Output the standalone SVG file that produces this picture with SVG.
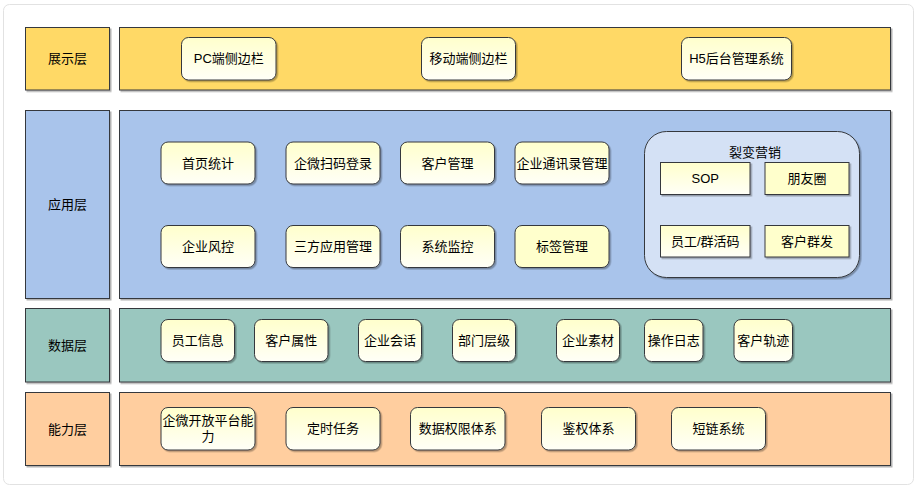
<svg xmlns="http://www.w3.org/2000/svg" width="919" height="488" viewBox="0 0 919 488">
<defs>
<linearGradient id="g" x1="0" y1="0" x2="0" y2="1"><stop offset="0" stop-color="#FFFFCC"/><stop offset="1" stop-color="#FFFFF7"/></linearGradient>
<filter id="sh" x="-10%" y="-10%" width="130%" height="130%"><feDropShadow dx="1.5" dy="1.5" stdDeviation="0.6" flood-color="#000" flood-opacity="0.3"/></filter>
</defs>
<style>
text{font-family:"Liberation Sans","Noto Sans CJK SC",sans-serif;font-size:13px;fill:#000;text-anchor:middle;dominant-baseline:central}
.lay{stroke:#36393d;stroke-width:1;filter:url(#sh)}
.n{fill:url(#g);stroke:#36393d;stroke-width:1;filter:url(#sh)}
.ns{fill:#FFFFCC;stroke:#36393d;stroke-width:1;filter:url(#sh)}
.y{fill:#FFD966}.b{fill:#A9C4EB}.t{fill:#9AC7BF}.p{fill:#FFCE9F}
</style>
<rect x="3.5" y="4.5" width="910" height="480" rx="6" fill="#fff" stroke="#e2e2e2"/>
<g id="layers">
<g id="l1"><rect class="lay y" x="25.5" y="27.5" width="84" height="62.5"/><text x="67.5" y="58.75">展示层</text></g>
<g id="l1m"><rect class="lay y" x="119.5" y="27.5" width="771" height="62.5"/></g>
<g id="l2"><rect class="lay b" x="25.5" y="110.5" width="84" height="188"/><text x="67.5" y="204.5">应用层</text></g>
<g id="l2m"><rect class="lay b" x="119.5" y="110.5" width="771" height="188"/></g>
<g id="l3"><rect class="lay t" x="25.5" y="308.5" width="84" height="73.5"/><text x="67.5" y="345">数据层</text></g>
<g id="l3m"><rect class="lay t" x="119.5" y="308.5" width="771" height="73.5"/></g>
<g id="l4"><rect class="lay p" x="25.5" y="392.5" width="84" height="73"/><text x="67.5" y="429">能力层</text></g>
<g id="l4m"><rect class="lay p" x="119.5" y="392.5" width="771" height="73"/></g>
</g>
<g id="n-pc"><rect class="n" x="181.5" y="37.5" width="94.5" height="42.5" rx="7"/><text x="228.75" y="58.75">PC端侧边栏</text></g>
<g id="n-mobile"><rect class="n" x="421.5" y="37.5" width="94" height="42.5" rx="7"/><text x="468.5" y="58.75">移动端侧边栏</text></g>
<g id="n-h5"><rect class="n" x="681.5" y="37.5" width="110" height="42.5" rx="7"/><text x="736.5" y="58.75">H5后台管理系统</text></g>

<g id="n-home"><rect class="n" x="161" y="142" width="94" height="42" rx="7"/><text x="208" y="163">首页统计</text></g>
<g id="n-login"><rect class="n" x="286" y="142" width="94" height="42" rx="7"/><text x="333" y="163">企微扫码登录</text></g>
<g id="n-cust"><rect class="n" x="400.5" y="142" width="94" height="42" rx="7"/><text x="447.5" y="163">客户管理</text></g>
<g id="n-addr"><rect class="n" x="515" y="142" width="94" height="42" rx="7"/><text x="562" y="163">企业通讯录管理</text></g>
<g id="n-risk"><rect class="n" x="161" y="225.5" width="94" height="42" rx="7"/><text x="208" y="246.5">企业风控</text></g>
<g id="n-third"><rect class="n" x="286" y="225.5" width="94" height="42" rx="7"/><text x="333" y="246.5">三方应用管理</text></g>
<g id="n-mon"><rect class="n" x="400.5" y="225.5" width="94" height="42" rx="7"/><text x="447.5" y="246.5">系统监控</text></g>
<g id="n-tag"><rect class="ns" x="515" y="225.5" width="94" height="42" rx="7"/><text x="562" y="246.5">标签管理</text></g>

<g id="n-fission"><rect x="644.5" y="131.5" width="215" height="146" rx="22" fill="#D4E1F5" stroke="#36393d" stroke-width="1" filter="url(#sh)"/><text x="755" y="152.5">裂变营销</text></g>
<g id="n-sop"><rect class="n" x="660.5" y="162.5" width="89.5" height="32"/><text x="705.25" y="178.5">SOP</text></g>
<g id="n-moments"><rect class="ns" x="765" y="162.5" width="84" height="32"/><text x="807" y="178.5">朋友圈</text></g>
<g id="n-code"><rect class="n" x="660.5" y="225.5" width="89.5" height="31.5"/><text x="705.25" y="241.25">员工/群活码</text></g>
<g id="n-mass"><rect class="ns" x="765" y="225.5" width="84" height="31.5"/><text x="807" y="241.25">客户群发</text></g>

<g id="n-staff"><rect class="n" x="161" y="319.5" width="73.5" height="42" rx="7"/><text x="197.75" y="340">员工信息</text></g>
<g id="n-attr"><rect class="n" x="254.5" y="319.5" width="73.5" height="42" rx="7"/><text x="291.25" y="340">客户属性</text></g>
<g id="n-chat"><rect class="n" x="358.5" y="319.5" width="63" height="42" rx="7"/><text x="390" y="340">企业会话</text></g>
<g id="n-dept"><rect class="n" x="452.5" y="319.5" width="63" height="42" rx="7"/><text x="484" y="340">部门层级</text></g>
<g id="n-mat"><rect class="n" x="556.5" y="319.5" width="63" height="42" rx="7"/><text x="588" y="340">企业素材</text></g>
<g id="n-log"><rect class="n" x="644.5" y="319.5" width="58.5" height="42" rx="7"/><text x="673.75" y="340">操作日志</text></g>
<g id="n-track"><rect class="n" x="734" y="319.5" width="58.5" height="42" rx="7"/><text x="763.25" y="340">客户轨迹</text></g>

<g id="n-open"><rect class="n" x="161" y="407.5" width="94" height="42.5" rx="7"/><text x="208" y="420.5">企微开放平台能</text><text x="208" y="436.5">力</text></g>
<g id="n-cron"><rect class="n" x="286" y="407.5" width="94" height="42.5" rx="7"/><text x="333" y="428.75">定时任务</text></g>
<g id="n-perm"><rect class="n" x="410.5" y="407.5" width="94.5" height="42.5" rx="7"/><text x="457.75" y="428.75">数据权限体系</text></g>
<g id="n-auth"><rect class="n" x="541.5" y="407.5" width="94" height="42.5" rx="7"/><text x="588.5" y="428.75">鉴权体系</text></g>
<g id="n-short"><rect class="n" x="671.5" y="407.5" width="94" height="42.5" rx="7"/><text x="718.5" y="428.75">短链系统</text></g>
<g id="connectors"/>
</svg>
